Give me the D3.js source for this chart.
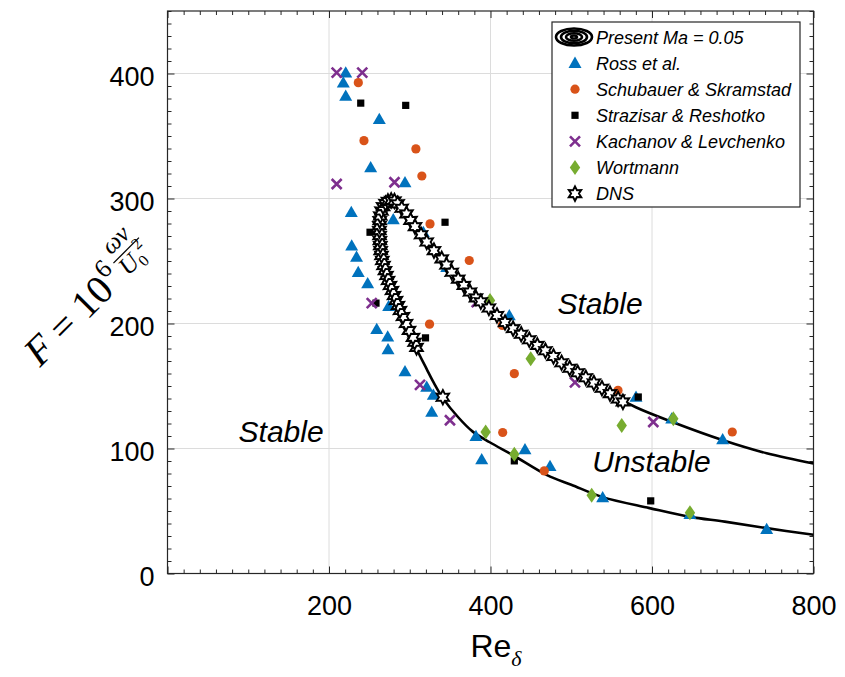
<!DOCTYPE html>
<html><head><meta charset="utf-8">
<script src="https://cdn.jsdelivr.net/npm/d3@7"></script>
<style>body{margin:0;background:#fff}svg{display:block}</style>
</head><body>
<svg id="chart" width="845" height="677"></svg>
<script>
// Neutral stability curve, present computation (Ma = 0.05)
const curveRe = [800,742,690,647,597,539,500,470,428,399,378,360,341,329,321,309,299,291,283,275.5,269.3,265,263,262.5,263.5,266,270,276,282,290,301,314,330,345.5,360,374.6,388,408,428,458,488,518,548,580,626,688,742,800];
const curveF  = [31,36.3,41.5,45.3,52.3,61.1,71,78.7,94.6,105,113.5,125,140.3,153.5,163.5,179,194.5,206,218.4,230.4,242.3,254.4,266,278,286,292,296,298.5,297.8,292.2,282.5,271,258.3,246.8,235.5,225.2,217.4,206.4,195.9,182.5,168.6,156.6,143.9,133,121,106.6,96.2,88];

// Ross et al.
const rossRe = [220.7,217.7,220.7,262.3,251.6,227.6,279.6,228.1,234.1,236.2,247.9,273.9,259.1,272.7,273.1,294.1,321,329.2,327.2,382,389.1,442.7,473.7,538.9,647,742,294.1,316.8,345.8,423.3,580.2,624.4,687.5];
const rossF  = [400.7,392.7,382.1,363.5,324.9,289.1,283.3,262.3,253.2,241,232,213.8,195.4,189.4,179.3,161.7,149.2,142.9,129.2,109.8,91.2,99.2,85.8,60.9,47.5,35.5,312.9,273,245,206.4,141.2,123.9,107.2];

// Schubauer & Skramstad
const schubRe = [236.3,243.3,307.6,315,325.1,373.7,324.5,414.6,429.5,415.1,466.6,557.9,699.4];
const schubF  = [392.7,346.3,339.7,318,279.7,250.4,199.5,198.5,159.9,112.8,82.1,146.5,113.2];

// Strazisar & Reshotko
const strazRe = [239.3,295,250.8,258.2,343.7,319.5,429.5,583,598.4];
const strazF  = [376.3,374.5,273,216.3,281,188.5,90.1,141.2,58.1];

// Kachanov & Levchenko
const kachRe = [209.5,241.2,209.5,281.1,252.9,382.9,312.7,349.8,504.6,601.6];
const kachF  = [400.7,400.7,311.6,313,216.3,217.1,150.9,122.6,152.9,121.2];

// Wortmann
const wortRe = [399.4,449.8,562.5,626.4,394,429.5,525.3,647];
const wortF  = [218.4,171.9,118.4,123.9,113.2,95.4,62.7,48.6];

// DNS
const dnsRe = [341,308.4,306,304,299.1,295.4,291.6,287.9,285.4,283,280.5,278,275.5,273.1,271.2,269.3,267.5,266,265,264,263.5,263,262.6,262.4,262.4,262.8,263.5,265,267,270,273,277,
  281,285,290,296,301,306.5,314,321,330,339.6,345.5,352,360,367,374.6,382,388,398,408,418,428,438,448,458,468,478,488,498,508,518,528,538,548,558,564];
const dnsF  = [141,180.9,185,188.9,194.5,200,205.6,210.4,214.4,218.4,222.4,226.4,230.4,234.4,238.4,242.3,246.4,250.4,254.4,258.3,262.3,266.3,270.3,274.3,278.3,282.3,286,290,293.5,296,297.7,298.5,
  298,295.8,292.2,287.7,282.5,277.5,271,265.2,258.3,251.7,246.8,241,235.5,230.5,225.2,220.5,217.4,212.4,206.4,200.8,195.9,191.4,187,182.5,178.2,173.6,168.6,164.2,160.6,156.6,152.4,148.2,143.9,139.6,137.3];

const xMajor = [200,400,600,800];
const yMajor = [0,100,200,300,400];
const legendLabels = ["Present Ma = 0.05","Ross et al.","Schubauer & Skramstad","Strazisar & Reshotko","Kachanov & Levchenko","Wortmann","DNS"];
const regionLabels = [
  {text:"Stable", re:88, f:105},
  {text:"Stable", re:483, f:208},
  {text:"Unstable", re:526, f:81}
];

const svg = d3.select("#chart");
const plot = {left:167.5, right:813.5, top:11, bottom:573.5};
const x = d3.scaleLinear().domain([0,800]).range([plot.left, plot.right]);
const y = d3.scaleLinear().domain([0,450]).range([plot.bottom, plot.top]);

const axisColor = "#262626";
const sansFont = "'Liberation Sans', Arial, sans-serif";
const serifFont = "'Liberation Serif', 'Times New Roman', serif";

// grid
const grid = svg.append("g").attr("stroke","#dcdcdc").attr("stroke-width",1);
[200,400,600].forEach(v => grid.append("line").attr("x1",x(v)).attr("x2",x(v)).attr("y1",plot.top).attr("y2",plot.bottom));
[100,200,300,400].forEach(v => grid.append("line").attr("x1",plot.left).attr("x2",plot.right).attr("y1",y(v)).attr("y2",y(v)));

// ticks on all four sides, pointing inward
function tickAxis(axis, transform, values, len){
  const g = svg.append("g").attr("transform",transform)
    .call(axis.tickValues(values).tickSize(-len).tickFormat(""));
  g.select(".domain").remove();
  g.selectAll(".tick line").attr("stroke",axisColor).attr("stroke-width",1);
  return g;
}
const xMinor = d3.range(0,801,20).filter(v=>v%200!==0);
const yMinor = d3.range(0,451,10).filter(v=>v%100!==0);
const xMaj = [0,200,400,600,800], yMaj=[0,100,200,300,400];
tickAxis(d3.axisBottom(x), `translate(0,${plot.bottom})`, xMinor, 4);
tickAxis(d3.axisBottom(x), `translate(0,${plot.bottom})`, xMaj, 7);
tickAxis(d3.axisTop(x), `translate(0,${plot.top})`, xMinor, 4).selectAll(".tick line").attr("y2",4);
tickAxis(d3.axisTop(x), `translate(0,${plot.top})`, xMaj, 7).selectAll(".tick line").attr("y2",7);
tickAxis(d3.axisLeft(y), `translate(${plot.left},0)`, yMinor, 4);
tickAxis(d3.axisLeft(y), `translate(${plot.left},0)`, yMaj, 7);
tickAxis(d3.axisRight(y), `translate(${plot.right},0)`, yMinor, 4).selectAll(".tick line").attr("x2",-4);
tickAxis(d3.axisRight(y), `translate(${plot.right},0)`, yMaj, 7).selectAll(".tick line").attr("x2",-7);

// tick labels
const xl = svg.append("g").attr("transform",`translate(0,${plot.bottom})`)
  .call(d3.axisBottom(x).tickValues(xMajor).tickSize(0).tickPadding(22));
xl.select(".domain").remove();
xl.selectAll("text").attr("font-family",sansFont).attr("font-size",27).attr("fill","#000");
const yl = svg.append("g").attr("transform",`translate(${plot.left},0)`)
  .call(d3.axisLeft(y).tickValues(yMajor).tickSize(0).tickPadding(13));
yl.select(".domain").remove();
yl.selectAll("text").attr("font-family",sansFont).attr("font-size",27).attr("fill","#000").attr("dy","0.45em");

// frame
svg.append("rect").attr("x",plot.left).attr("y",plot.top)
  .attr("width",plot.right-plot.left).attr("height",plot.bottom-plot.top)
  .attr("fill","none").attr("stroke",axisColor).attr("stroke-width",1.2);

// marker shapes
const markers = {
  tri: g => g.append("path").attr("d","M0,-6.5L6.5,4.8L-6.5,4.8Z").attr("fill","#0072BD"),
  circ: g => g.append("circle").attr("r",4.6).attr("fill","#D95319"),
  sq: g => g.append("rect").attr("x",-3.6).attr("y",-3.6).attr("width",7.2).attr("height",7.2).attr("fill","#000"),
  cross: g => g.append("path").attr("d","M-5,-5L5,5M-5,5L5,-5").attr("stroke","#7E2F8E").attr("stroke-width",2.6).attr("fill","none"),
  diam: g => g.append("path").attr("d","M0,-7.5L5.2,0L0,7.5L-5.2,0Z").attr("fill","#77AC30"),
  hex: g => {
    const pts=[]; for(let i=0;i<12;i++){const a=-Math.PI/2+i*Math.PI/6; const r=i%2?3.9:7.2; pts.push([r*Math.cos(a),r*Math.sin(a)]);}
    return g.append("path").attr("d","M"+pts.map(p=>p.join(",")).join("L")+"Z")
      .attr("fill","#fff").attr("stroke","#000").attr("stroke-width",1.9).attr("stroke-linejoin","miter");
  }
};

svg.append("clipPath").attr("id","plotclip").append("rect")
  .attr("x",plot.left).attr("y",plot.top).attr("width",plot.right-plot.left).attr("height",plot.bottom-plot.top);

// curve
const curvePts = curveRe.map((r,i)=>[r,curveF[i]]);
svg.append("path").attr("clip-path","url(#plotclip)")
  .attr("d", d3.line().x(d=>x(d[0])).y(d=>y(d[1])).curve(d3.curveCatmullRom.alpha(0.5))(curvePts))
  .attr("fill","none").attr("stroke","#000").attr("stroke-width",2.6);

function scatter(res, fs, kind){
  const g = svg.append("g");
  res.forEach((r,i)=>{
    const m = g.append("g").attr("transform",`translate(${x(r)},${y(fs[i])})`);
    markers[kind](m);
  });
}
scatter(rossRe, rossF, "tri");
scatter(schubRe, schubF, "circ");
scatter(strazRe, strazF, "sq");
scatter(kachRe, kachF, "cross");
scatter(wortRe, wortF, "diam");
scatter(dnsRe, dnsF, "hex");

// region labels
regionLabels.forEach(d=>{
  svg.append("text").attr("x",x(d.re)).attr("y",y(d.f)).attr("font-family",sansFont)
    .attr("font-style","italic").attr("font-size",30).attr("fill","#000").text(d.text);
});

// legend
const lg = svg.append("g");
lg.append("rect").attr("x",552).attr("y",22).attr("width",248).attr("height",185)
  .attr("fill","#fff").attr("stroke",axisColor).attr("stroke-width",1.2);
const kinds = [null,"tri","circ","sq","cross","diam","hex"];
legendLabels.forEach((t,i)=>{
  const cy = 37 + i*26.1;
  if(i===0){
    const ic = lg.append("g").attr("transform",`translate(574,${cy})`);
    [[18,8.5],[13,6.2],[8,3.8],[3,1.5]].forEach(([rx,ry])=>{
      ic.append("ellipse").attr("rx",rx).attr("ry",ry).attr("fill","none").attr("stroke","#000").attr("stroke-width",2.6);
    });
  } else {
    const m = lg.append("g").attr("transform",`translate(575,${cy})`);
    markers[kinds[i]](m);
  }
  lg.append("text").attr("x",596).attr("y",cy+6.5).attr("font-family",sansFont)
    .attr("font-style","italic").attr("font-size",18).attr("fill","#000").text(t);
});

// x axis title
const xt = svg.append("text").attr("x",496).attr("y",657).attr("text-anchor","middle")
  .attr("font-family",sansFont).attr("font-size",32).attr("fill","#000");
xt.append("tspan").text("Re");
xt.append("tspan").attr("font-family",serifFont).attr("font-style","italic").attr("font-size",22).attr("dy",9).text("δ");

// y axis title: F = 10^6 ων/U0^2, rotated
const outer = svg.append("g");
const inner = outer.append("g");
const t1 = inner.append("text").attr("font-family",serifFont).attr("font-size",40).attr("fill","#000");
t1.append("tspan").attr("font-style","italic").text("F");
t1.append("tspan").text(" = 10");
const w1 = t1.node().getComputedTextLength();
inner.append("text").attr("x",w1+1).attr("y",-17).attr("font-family",serifFont).attr("font-size",26).text("6");
const fx = w1 + 19;
const num = inner.append("text").attr("x",fx).attr("y",-29).attr("font-family",serifFont)
  .attr("font-style","italic").attr("font-size",25).text("ων");
const den = inner.append("text").attr("x",fx).attr("y",-2).attr("font-family",serifFont).attr("font-size",25);
den.append("tspan").attr("font-style","italic").text("U");
den.append("tspan").attr("font-size",16).attr("dy",5).text("0");
den.append("tspan").attr("font-size",16).attr("dy",-17).attr("dx",-1).text("2");
const nw = num.node().getComputedTextLength(), dw = den.node().getComputedTextLength();
const fw = Math.max(nw,dw)+2;
num.attr("x", fx + (fw-nw)/2);
den.attr("x", fx + (fw-dw)/2);
inner.append("line").attr("x1",fx).attr("x2",fx+fw).attr("y1",-22).attr("y2",-22).attr("stroke","#000").attr("stroke-width",1.3);
const bb = inner.node().getBBox();
inner.attr("transform",`translate(${-(bb.x+bb.width/2)},${-(bb.y+bb.height/2)})`);
outer.attr("transform","translate(82,296) rotate(-45)");
</script>
</body></html>
